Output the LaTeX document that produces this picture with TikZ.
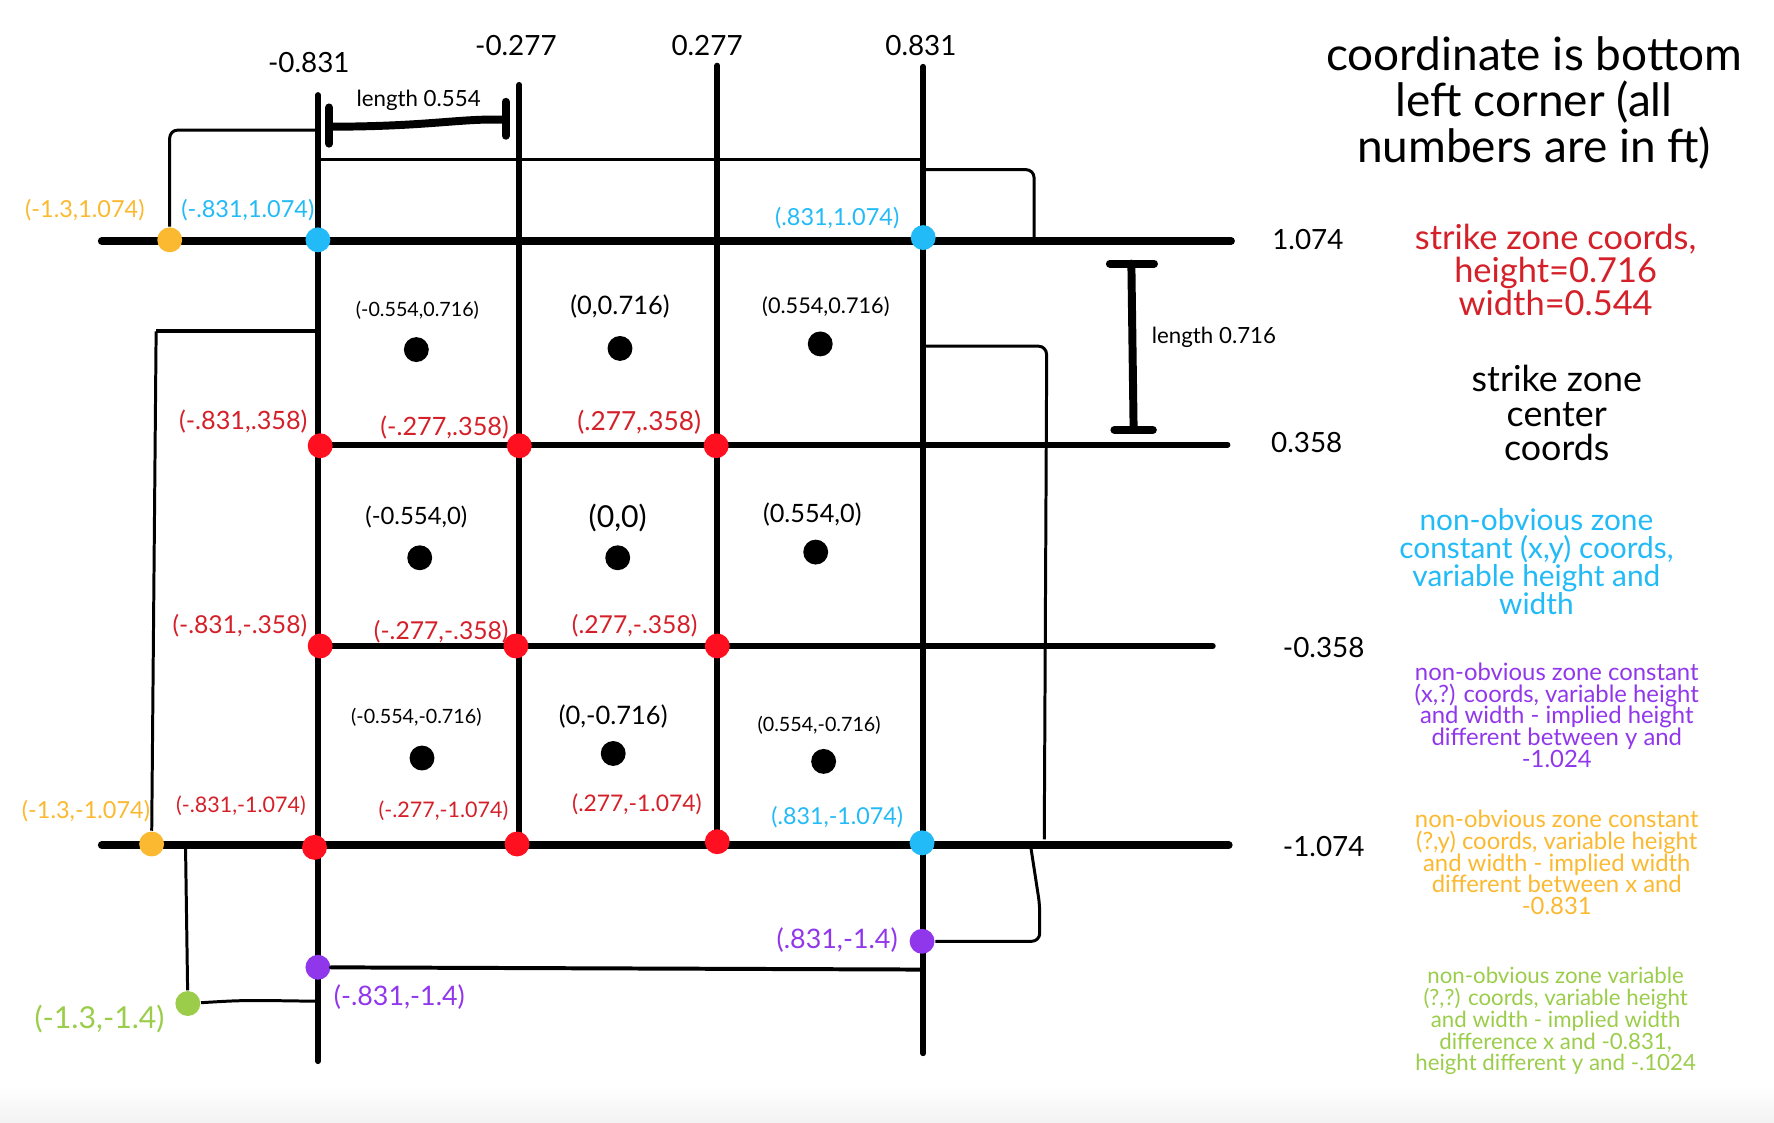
\documentclass[tikz,border=0pt]{standalone}
\usepackage{fontspec}
\setmainfont{Lato}
\definecolor{dotred}{HTML}{FF1020}
\definecolor{txtred}{HTML}{D42029}
\definecolor{zblue}{HTML}{22BAF7}
\definecolor{zorange}{HTML}{FBB931}
\definecolor{zpurple}{HTML}{9137EB}
\definecolor{zgreen}{HTML}{9BCD4B}
\newcommand{\txtsize}[1]{\fontsize{#1}{#1}\selectfont}
\begin{document}
\begin{tikzpicture}[x=.01cm, y=-.01cm, line join=round,
    gridline/.style={line width=1.45pt, line cap=round},
    edgeline/.style={line width=2pt, line cap=round},
    thinline/.style={line width=.75pt, rounded corners=2pt},
    boldthin/.style={line width=1pt, line cap=round},
    dimline/.style={line width=2pt, line cap=round},
    zonedot/.style={circle, fill=#1, minimum size=.22cm, inner sep=0pt},
    ptlabel/.style 2 args={text=#1, font=\txtsize{#2}, inner sep=0pt},
    numlabel/.style={font=\txtsize{7pt}, inner sep=0pt},
    legend/.style n args={3}{text=#1, align=center, anchor=north, inner sep=0pt,
      font={\fontsize{#2}{#3}\selectfont\lineskiplimit=-20pt}}]
	\useasboundingbox (0,0) rectangle (1568,992);
	\shade[top color=white, bottom color=black!5] (0,960) rectangle (1568,992);
	% grid
	\coordinate (v1t) at (281,84);  \coordinate (v1b) at (281,938);
	\coordinate (v2t) at (459,75);  \coordinate (v2b) at (459,746);
	\coordinate (v3t) at (634,58);  \coordinate (v3b) at (634,744);
	\coordinate (v4t) at (816,59);  \coordinate (v4b) at (816,931);
	\coordinate (h1l) at (90,213);  \coordinate (h1r) at (1088,213);
	\coordinate (h2l) at (283,393); \coordinate (h2r) at (1085,393);
	\coordinate (h3l) at (283,571); \coordinate (h3r) at (1072,571);
	\coordinate (h4l) at (90,747);  \coordinate (h4r) at (1086,747);
	\draw[gridline] (v1t) -- (v1b);
	\draw[gridline] (v2t) -- (v2b);
	\draw[gridline] (v3t) -- (v3b);
	\draw[gridline] (v4t) -- (v4b);
	\draw[edgeline] (h1l) -- (h1r);
	\draw[gridline] (h2l) -- (h2r);
	\draw[gridline] (h3l) -- (h3r);
	\draw[edgeline] (h4l) -- (h4r);
	% axis numbers
	\node[numlabel] (xa) at (273,55)   {-0.831};
	\node[numlabel] (xb) at (456,40)   {-0.277};
	\node[numlabel] (xc) at (625,40)   {0.277};
	\node[numlabel] (xd) at (814,40)   {0.831};
	\node[numlabel] (ya) at (1156,212) {1.074};
	\node[numlabel] (yb) at (1155,391) {0.358};
	\node[numlabel] (yc) at (1170,572) {-0.358};
	\node[numlabel] (yd) at (1170,748) {-1.074};
	% brackets
	\coordinate (k1) at (281,115);  \coordinate (k2) at (281,141);
	\coordinate (k3) at (816,141);  \coordinate (k4) at (818,150);
	\coordinate (k5) at (914,213);  \coordinate (k6) at (138,293);
	\coordinate (k7) at (281,293);  \coordinate (k8) at (818,306);
	\coordinate (k9) at (925,348);  \coordinate (k10) at (923,742);
	\coordinate (k11) at (911,748); \coordinate (k12) at (919,800);
	\coordinate (k13) at (816,857); \coordinate (k14) at (164,749);
	\coordinate (k15) at (279,885);
	\coordinate (w1) at (291,112);  \coordinate (w2) at (447,106);
	\coordinate (w3) at (1000,233); \coordinate (w4) at (1002,380);
	\draw[boldthin] (k2) -- (k3);
	\draw[thinline] (k4) -| (k5);
	\draw[line width=1pt] (k6) -- (k7);
	\draw[thinline] (k8) -| (k9) -- (k10);
	\draw[dimline] (w1) .. controls (380,112) and (410,104) .. (w2);
	\draw[dimline] (w1) +(0,-17) -- +(0,15);
	\draw[dimline] (w2) +(0,-16) -- +(0,14);
	\draw[dimline] (w3) -- (w4);
	\draw[dimline] (w3) +(-19,0) -- +(20,0);
	\draw[dimline] (w4) +(-17,0) -- +(17,0);
	\node[ptlabel={black}{5.6pt}] (len1) at (370,89)  {length 0.554};
	\node[ptlabel={black}{5.6pt}] (len2) at (1073,298) {length 0.716};
	% zone points
	\node[zonedot=zorange] (o1) at (150,212) {};
	\node[zonedot=zblue]   (b1) at (281,212) {};
	\node[zonedot=zblue]   (b2) at (816,210) {};
	\node[zonedot=dotred]  (r1) at (283,394) {};
	\node[zonedot=dotred]  (r2) at (459,394) {};
	\node[zonedot=dotred]  (r3) at (633,394) {};
	\node[zonedot=dotred]  (r4) at (283,571) {};
	\node[zonedot=dotred]  (r5) at (456,571) {};
	\node[zonedot=dotred]  (r6) at (634,571) {};
	\node[zonedot=zorange] (o2) at (134,746) {};
	\node[zonedot=dotred]  (r7) at (278,749) {};
	\node[zonedot=dotred]  (r8) at (457,746) {};
	\node[zonedot=dotred]  (r9) at (634,744) {};
	\node[zonedot=zblue]   (b3) at (815,745) {};
	\node[zonedot=zpurple] (p1) at (815,832) {};
	\node[zonedot=zpurple] (p2) at (281,855) {};
	\node[zonedot=zgreen]  (g1) at (166,887) {};
	\draw[thinline] (o1) |- (k1);
	\draw[thinline] (k6) -- (o2);
	\draw[thinline] (k11) -- (k12) |- (p1);
	\draw[boldthin] (p2) -- (k13);
	\draw[thinline] (k14) -- (g1);
	\draw[thinline] (g1) .. controls (215,884) .. (k15);
	\node[ptlabel={zorange}{5.9pt}]  (lo1) at (75,186)  {(-1.3,1.074)};
	\node[ptlabel={zblue}{5.9pt}]    (lb1) at (219,186) {(-.831,1.074)};
	\node[ptlabel={zblue}{5.9pt}]    (lb2) at (740,193) {(.831,1.074)};
	\node[ptlabel={txtred}{6.35pt}]  (lr1) at (215,373) {(-.831,.358)};
	\node[ptlabel={txtred}{6.35pt}]  (lr2) at (393,378) {(-.277,.358)};
	\node[ptlabel={txtred}{6.6pt}]   (lr3) at (565,373) {(.277,.358)};
	\node[ptlabel={txtred}{6.2pt}]   (lr4) at (212,553) {(-.831,-.358)};
	\node[ptlabel={txtred}{6.2pt}]   (lr5) at (390,558) {(-.277,-.358)};
	\node[ptlabel={txtred}{6.2pt}]   (lr6) at (561,553) {(.277,-.358)};
	\node[ptlabel={zorange}{5.9pt}]  (lo2) at (76,717)  {(-1.3,-1.074)};
	\node[ptlabel={txtred}{5.4pt}]   (lr7) at (213,712) {(-.831,-1.074)};
	\node[ptlabel={txtred}{5.4pt}]   (lr8) at (392,717) {(-.277,-1.074)};
	\node[ptlabel={txtred}{5.75pt}]  (lr9) at (563,711) {(.277,-1.074)};
	\node[ptlabel={zblue}{5.85pt}]   (lb3) at (740,722) {(.831,-1.074)};
	\node[ptlabel={zpurple}{6.75pt}] (lp1) at (740,831) {(.831,-1.4)};
	\node[ptlabel={zpurple}{6.75pt}] (lp2) at (353,881) {(-.831,-1.4)};
	\node[ptlabel={zgreen}{7.6pt}]   (lg1) at (88,901)  {(-1.3,-1.4)};
	% centre points
	\node[zonedot=black] (c1) at (368,309) {};
	\node[zonedot=black] (c2) at (548,308) {};
	\node[zonedot=black] (c3) at (725,304) {};
	\node[zonedot=black] (c4) at (371,493) {};
	\node[zonedot=black] (c5) at (546,493) {};
	\node[zonedot=black] (c6) at (721,488) {};
	\node[zonedot=black] (c7) at (373,670) {};
	\node[zonedot=black] (c8) at (542,666) {};
	\node[zonedot=black] (c9) at (728,673) {};
	\node[ptlabel={black}{4.95pt}] (lc1) at (369,274) {(-0.554,0.716)};
	\node[ptlabel={black}{6.4pt}]  (lc2) at (548,271) {(0,0.716)};
	\node[ptlabel={black}{5.45pt}] (lc3) at (730,271) {(0.554,0.716)};
	\node[ptlabel={black}{6pt}]    (lc4) at (368,457) {(-0.554,0)};
	\node[ptlabel={black}{7.6pt}]  (lc5) at (546,458) {(0,0)};
	\node[ptlabel={black}{6.35pt}] (lc6) at (718,455) {(0.554,0)};
	\node[ptlabel={black}{4.95pt}] (lc7) at (368,634) {(-0.554,-0.716)};
	\node[ptlabel={black}{6.4pt}]  (lc8) at (542,633) {(0,-0.716)};
	\node[ptlabel={black}{4.95pt}] (lc9) at (724,641) {(0.554,-0.716)};
	% legend
	\node[legend={black}{11.55pt}{11.5pt}]  (title) at (1356,32)  {coordinate is bottom\\left corner (all\\numbers are in ft)};
	\node[legend={txtred}{8.65pt}{8.4pt}]   (leg1)  at (1375,197) {strike zone coords,\\height=0.716\\width=0.544};
	\node[legend={black}{9pt}{8.7pt}]       (leg2)  at (1376,322) {strike zone\\center\\coords};
	\node[legend={zblue}{7.5pt}{7pt}]       (leg3)  at (1358,449) {non-obvious zone\\constant (x,y) coords,\\variable height and\\width};
	\node[legend={zpurple}{6pt}{5.5pt}]     (leg4)  at (1376,585) {non-obvious zone constant\\(x,?) coords, variable height\\and width - implied height\\different between y and\\-1.024};
	\node[legend={zorange}{6pt}{5.5pt}]     (leg5)  at (1376,715) {non-obvious zone constant\\(?,y) coords, variable height\\and width - implied width\\different between x and\\-0.831};
	\node[legend={zgreen}{5.6pt}{5.5pt}]    (leg6)  at (1375,854) {non-obvious zone variable\\(?,?) coords, variable height\\and width - implied width\\difference x and -0.831,\\height different y and -.1024};
\end{tikzpicture}
\end{document}
